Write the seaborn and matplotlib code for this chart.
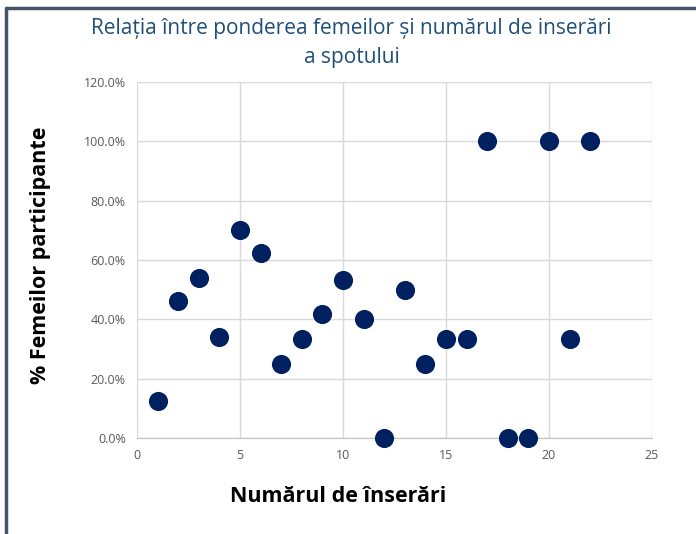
import numpy as np
import pandas as pd
import matplotlib
matplotlib.use('Agg')
import matplotlib.pyplot as plt
import seaborn as sns
from matplotlib.ticker import PercentFormatter
from matplotlib.lines import Line2D

# data
insertions = [1, 2, 3, 4, 5, 6, 7, 8, 9, 10, 11, 12, 13, 14, 15, 16, 17, 18, 19, 20, 21, 22]
women_share = [12.5, 46.2, 53.8, 34.2, 70.0, 62.5, 25.0, 33.3, 41.7, 53.3, 40.0, 0.0,
               50.0, 25.0, 33.3, 33.3, 100.0, 0.0, 0.0, 100.0, 33.3, 100.0]

df = pd.DataFrame({'x': insertions, 'y': np.array(women_share) / 100})

sns.set_style('white')
plt.rcParams['font.family'] = ['Open Sans', 'DejaVu Sans']

fig = plt.figure(figsize=(6.96, 5.34), dpi=100)
ax = fig.add_axes([0.1968, 0.1798, 0.74, 0.6666])

sns.scatterplot(data=df, x='x', y='y', ax=ax, s=190, color='#002060',
                edgecolor='#002060', linewidth=0, zorder=3, clip_on=False)

ax.set_xlim(0, 25)
ax.set_ylim(0, 1.2)
ax.set_xticks(range(0, 26, 5))
ax.set_yticks(np.arange(0, 1.21, 0.2))
ax.yaxis.set_major_formatter(PercentFormatter(1.0, decimals=1))
ax.grid(True, color='#d9d9d9', linewidth=1)
ax.set_axisbelow(True)
for s in ['top', 'right', 'left']:
    ax.spines[s].set_visible(False)
ax.spines['bottom'].set_color('#bfbfbf')
ax.tick_params(axis='both', length=0, labelsize=9, colors='#595959', pad=8)

ax.set_xlabel('Numărul de înserări', fontsize=15.5, fontweight='bold', color='black')
ax.set_ylabel('% Femeilor participante', fontsize=15.5, fontweight='bold', color='black')
ax.xaxis.set_label_coords(0.39, -0.135)
ax.yaxis.set_label_coords(-0.167, 0.514)

fig.text(0.505, 0.947, 'Relația între ponderea femeilor și numărul de inserări',
         ha='center', va='center', fontsize=15, color='#1f4e79')
fig.text(0.505, 0.893, 'a spotului',
         ha='center', va='center', fontsize=15, color='#1f4e79')

# frame of the chart area (left and top edges visible)
fig.add_artist(Line2D([0.009, 0.009], [0, 0.985], transform=fig.transFigure,
                      color='#44546a', linewidth=2.5))
fig.add_artist(Line2D([0.009, 1.0], [0.985, 0.985], transform=fig.transFigure,
                      color='#44546a', linewidth=2.5))

fig.savefig('out.png', dpi=100)
